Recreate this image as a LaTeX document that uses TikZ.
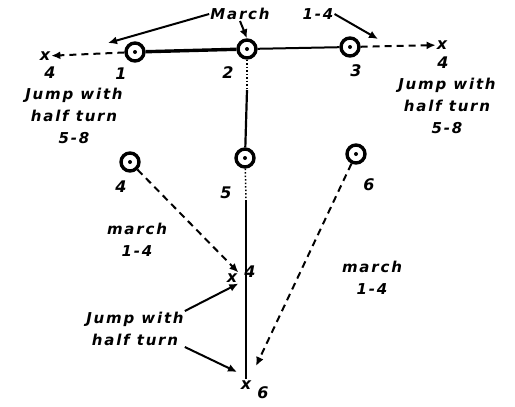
\documentclass[tikz,border=0pt]{standalone}
\usepackage{fontspec}
\setmainfont{Liberation Serif}
\newfontfamily\hand[LetterSpace=12]{DejaVu Sans}
\usetikzlibrary{arrows.meta}
\begin{document}
\begin{tikzpicture}[x=1pt,y=-1pt,
  dancer/.style={circle,draw,line width=3.4pt,minimum size=18pt,inner sep=0pt,
    path picture={\fill (path picture bounding box.center) circle (2pt);}},
  lbl/.style={font=\fontsize{16}{18}\selectfont\hand\bfseries\itshape,inner sep=1pt,align=center},
  note/.style={font=\fontsize{15}{22}\selectfont\hand\bfseries\itshape,inner sep=1pt,align=center},
  dashline/.style={line width=2pt,dash pattern=on 7pt off 5pt},
  arr/.style={-{Latex[length=9pt,width=8pt]}},
  solidline/.style={line width=2.2pt}]
\useasboundingbox (0,0) rectangle (515,407);
% dancers
\node[dancer] (d1) at (135,52) {};
\node[dancer] (d2) at (247,49) {};
\node[dancer] (d3) at (350,47) {};
\node[dancer] (d4) at (130,162) {};
\node[dancer] (d5) at (245,158) {};
\node[dancer] (d6) at (356,154) {};
\node[lbl] (n1) at (121,74) {1};
\node[lbl] (n2) at (228,73) {2};
\node[lbl] (n3) at (356,71) {3};
\node[lbl] (n4) at (121,187) {4};
\node[lbl] (n5) at (226,193) {5};
\node[lbl] (n6) at (369,185) {6};
% end points
\node[lbl] (xl) at (45,56) {x};
\node[lbl] (xl4) at (50,73) {4};
\node[lbl] (xr) at (442,45) {x};
\node[lbl] (xr4) at (443,63) {4};
\node[lbl] (xm) at (232,278) {x};
\node[lbl] (xm4) at (250,272) {4};
\node[lbl] (xb) at (246,385) {x};
\node[lbl] (xb6) at (263,393) {6};
% top lines
\draw[line width=3.4pt] (d1) -- (d2);
\draw[line width=2pt] (d2) -- (d3);
\draw[dashline,arr] (d1) -- (xl);
\draw[dashline,arr] (d3) -- (xr);
% vertical
\coordinate (v1) at (247,90);
\coordinate (v2) at (246,200);
\draw[line width=1.5pt,dotted] (d2) -- (v1);
\draw[solidline] (v1) -- (d5);
\draw[line width=1.5pt,dotted] (d5) -- (v2);
\draw[solidline] (v2) -- (xb);
% diagonal dashed
\draw[dashline,arr] (d4) -- (xm.north east);
\coordinate (e6) at (256,366);
\draw[dashline,arr] (d6) -- (e6);
% texts
\node[note] (march) at (240,14) {March};
\node[note] (m14) at (318,14) {1-4};
\coordinate (ea) at (108,43);
\coordinate (eb) at (378,39);
\coordinate (ec) at (237,372);
\draw[line width=2pt,arr] (march.west) -- (ea);
\draw[line width=2pt,arr] (march.south) -- (d2.north);
\draw[line width=2pt,arr] (m14.east) -- (eb);
\node[note] (jl) at (74,116) {Jump with\\half turn\\5-8};
\node[note] (jr) at (447,106) {Jump with\\half turn\\5-8};
\node[note] (ml) at (137,240) {march\\1-4};
\node[note] (mr) at (372,278) {march\\1-4};
\node[note] (jb) at (135,329) {Jump with\\half turn};
\draw[line width=2pt,arr] (jb.north east) -- (xm.south east);
\draw[line width=2pt,arr] (jb.south east) -- (ec);
\end{tikzpicture}
\end{document}
